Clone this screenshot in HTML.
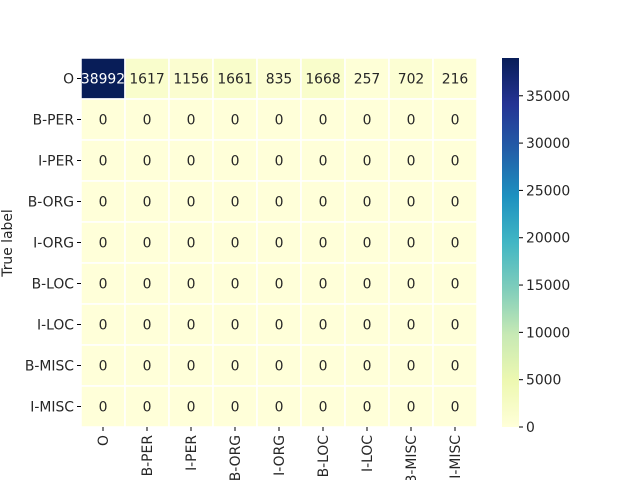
<!DOCTYPE html>
<html><head><meta charset="utf-8"><style>
body{margin:0;background:#fff}
svg text{font-family:"DejaVu Sans","Liberation Sans",sans-serif;font-size:13.9px;fill:#262626}
</style></head><body>
<svg id="chart" width="640" height="480">
<defs><linearGradient id="cb" x1="0" y1="1" x2="0" y2="0"></linearGradient></defs>
<g id="cells"></g><g id="yax"></g><g id="xax"></g><g id="cbar"></g>
<text x="12" y="243" transform="rotate(-90 12 243)" text-anchor="middle">True label</text>
</svg>
<script>
const labels=["O","B-PER","I-PER","B-ORG","I-ORG","B-LOC","I-LOC","B-MISC","I-MISC"];
const row0=[38992,1617,1156,1661,835,1668,257,702,216];
const cbTicks=[0,5000,10000,15000,20000,25000,30000,35000];
const stops=["#ffffd9","#edf8b1","#c7e9b4","#7fcdbb","#41b6c4","#1d91c0","#225ea8","#253494","#081d58"];
const NS="http://www.w3.org/2000/svg";
const X0=81,X1=477,Y0=58,Y1=427;
const n=labels.length,cw=(X1-X0)/n,ch=(Y1-Y0)/n;
const vmax=Math.max(...row0);
const matrix=labels.map((_,i)=>i===0?row0:labels.map(()=>0));
function hex(h){return [1,3,5].map(i=>parseInt(h.substr(i,2),16));}
function color(v){let t=Math.max(0,Math.min(1,v/vmax))*(stops.length-1);let i=Math.min(Math.floor(t),stops.length-2),f=t-i;
const a=hex(stops[i]),b=hex(stops[i+1]);return "rgb("+a.map((c,k)=>Math.round(c+(b[k]-c)*f)).join(",")+")";}
function lum(v){const c=color(v).match(/\d+/g).map(Number);return 0.299*c[0]+0.587*c[1]+0.114*c[2];}
function el(tag,attrs,parent){const e=document.createElementNS(NS,tag);for(const k in attrs)e.setAttribute(k,attrs[k]);parent.appendChild(e);return e;}
const cells=document.getElementById('cells'),yax=document.getElementById('yax'),xax=document.getElementById('xax'),cbar=document.getElementById('cbar');
matrix.forEach((row,i)=>row.forEach((v,j)=>{
 const r=el('rect',{x:X0+j*cw,y:Y0+i*ch,width:cw,height:ch,fill:color(v),stroke:"#fff","stroke-width":1.5},cells);
 
 
 const t=el('text',{x:X0+(j+.5)*cw,y:Y0+(i+.5)*ch+5,"text-anchor":"middle"},cells);
 
 
 t.textContent=v; if(lum(v)<128)t.style.fill="#fff";
}));
labels.forEach((l,i)=>{
 const y=Y0+(i+.5)*ch;
 el('line',{x1:X0-4,x2:X0,y1:y,y2:y,stroke:"#000"},yax);
 const t=el('text',{x:X0-7,y:y+5,"text-anchor":"end"},yax);
 
 
 t.textContent=l;
 const x=X0+(i+.5)*cw;
 el('line',{x1:x,x2:x,y1:Y1,y2:Y1+4,stroke:"#000"},xax);
 const tx=el('text',{x:x+5,y:Y1+8,"text-anchor":"end",transform:`rotate(-90 ${x+5} ${Y1+8})`},xax);
 
 
 tx.textContent=l;
});
const g=document.getElementById('cb');
stops.forEach((s,i)=>el('stop',{offset:i/(stops.length-1),"stop-color":s},g));
const CX=502,CW=17;
const cb=el('rect',{x:CX,y:Y0,width:CW,height:Y1-Y0,fill:"url(#cb)"},cbar);


cbTicks.forEach(v=>{
 const y=Y1-(v/vmax)*(Y1-Y0);
 el('line',{x1:CX+CW,x2:CX+CW+4,y1:y,y2:y,stroke:"#000"},cbar);
 const t=el('text',{x:CX+CW+7,y:y+5},cbar);
 
 
 t.textContent=v;
});
</script>
</body></html>
